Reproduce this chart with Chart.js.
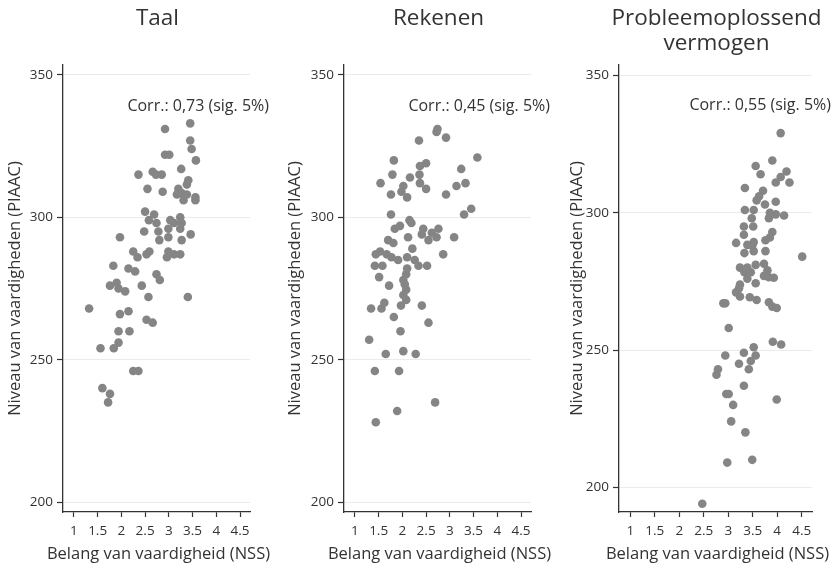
<!DOCTYPE html>
<html>
<head>
<meta charset="utf-8">
<title>Belang van vaardigheid vs niveau</title>
<script src="https://cdn.jsdelivr.net/npm/chart.js"></script>
<style>
    body { margin: 0; background: #fff; }
    #wrap { position: relative; width: 833px; height: 566px; }
    .panel { position: absolute; top: 0; height: 566px; }
</style>
<script>
    // scores: x = belang (NSS), y = niveau (PIAAC)
    const taalX = [3.45, 2.92, 3.45, 3.48, 2.92, 3.01, 3.57, 2.36, 2.66, 2.73, 2.85, 3.26, 3.41, 3.38, 2.55, 2.87, 3.20, 3.17, 3.27, 3.38,
        3.31, 3.56, 3.56, 2.50, 2.69, 2.58, 2.74, 3.03, 3.11, 3.24, 3.27, 2.99, 3.24, 2.48, 2.78, 3.46, 1.97, 2.99, 2.80, 3.27,
        2.25, 2.34, 2.59, 2.53, 2.99, 3.11, 3.24, 2.96, 1.83, 2.15, 2.29, 2.74, 2.81, 1.90, 1.76, 1.94, 2.08, 2.43, 2.57, 3.40,
        1.32, 1.97, 2.15, 2.53, 2.66, 1.94, 2.17, 1.94, 1.84, 1.56, 2.25, 2.36, 1.60, 1.76, 1.72];
    const taalY = [333, 331, 327, 324, 322, 322, 320, 315, 316, 315, 315, 317, 313, 311.5, 310, 309, 310, 308, 308.5, 308,
        306, 307, 306, 302, 301, 299, 298, 299, 298, 300, 298, 296, 296, 295, 295, 294, 293, 293, 292, 292,
        288, 286, 288, 287, 288, 287, 287, 286, 283, 282, 281, 280, 278, 277, 276, 275, 274, 276, 272, 272,
        268, 266, 267, 264, 263, 260, 260, 256, 254, 254, 246, 246, 240, 238, 235];

    const rekenenX = [2.74, 2.72, 2.92, 2.35, 3.58, 1.82, 2.50, 2.37, 3.24, 1.79, 2.16, 2.36, 1.54, 2.37, 2.50, 2.02, 1.98, 2.10, 1.76, 3.14,
        3.33, 2.92, 3.30, 3.45, 1.76, 2.15, 2.19, 1.84, 1.95, 2.44, 2.12, 2.41, 2.55, 2.62, 2.76, 2.72, 3.09, 1.70, 1.81, 2.21,
        1.44, 1.53, 1.67, 1.77, 1.91, 2.10, 2.86, 2.26, 2.34, 1.42, 1.58, 2.52, 2.10, 2.08, 1.51, 2.02, 2.05, 1.72, 2.08, 2.02,
        2.08, 1.34, 1.56, 1.62, 1.97, 2.41, 1.82, 2.55, 1.96, 1.30, 1.65, 2.02, 2.28, 1.42, 1.93, 2.69, 1.89, 1.44];
    const rekenenY = [331, 330, 328, 327, 321, 320, 319, 318, 317, 315, 314, 315, 312, 312, 310, 311, 309, 307, 308, 311,
        312, 308, 301, 303, 301, 299, 298, 296, 297, 296, 293, 294, 292, 294.6, 296, 293, 293, 292, 291, 289,
        287, 288, 287, 286, 285, 286, 287, 285, 283, 283, 283, 283, 282, 280, 279, 278, 276.5, 276, 274.6, 272.7,
        271, 268, 268, 270, 269, 269, 265, 263, 260, 257, 252, 253, 252, 246, 246, 235, 232, 228];

    const probX = [4.07, 3.90, 3.56, 3.66, 4.19, 4.07, 3.97, 4.25, 3.34, 3.71, 3.63, 3.58, 3.75, 3.97, 3.34, 3.52, 3.85, 3.83, 4.14, 3.97,
        3.48, 3.32, 3.51, 3.32, 3.90, 3.85, 3.76, 3.16, 3.39, 3.52, 3.49, 3.33, 3.52, 3.76, 4.51, 3.24, 3.39, 3.56, 3.73, 3.33,
        3.46, 3.80, 3.73, 3.83, 3.93, 3.39, 3.56, 3.24, 3.22, 3.16, 3.24, 3.44, 3.58, 2.90, 2.94, 3.83, 3.90, 3.99, 3.01, 3.91,
        4.08, 3.52, 3.32, 2.94, 3.56, 3.46, 3.22, 3.42, 2.79, 2.76, 3.32, 2.96, 3.01, 3.10, 3.99, 3.06, 3.35, 3.49, 2.98, 2.47];
    const probY = [329, 319, 317, 314, 315, 313, 311, 311, 309, 308, 306, 304.5, 303, 304, 301, 301, 300, 298, 299, 299.4,
        298, 295, 295, 292, 293, 291, 290, 289, 288.3, 289.3, 288, 285.3, 286, 286, 284, 280, 280, 281, 281.4, 278.3,
        278.3, 279, 277, 276.5, 276.3, 276, 274.3, 273.8, 272.5, 271, 269.5, 269.2, 268.2, 267, 267, 267.4, 265.8, 265.3, 258, 253,
        252, 251, 249, 248, 248, 246, 245, 243, 243, 241, 237, 234, 234, 230, 232, 224, 220, 210, 209, 194];

    const xTicks = [1, 1.5, 2, 2.5, 3, 3.5, 4, 4.5];
    const yTicks = [200, 250, 300, 350];

    const xTitle = 'Belang van vaardigheid (NSS)';
    const yTitle = 'Niveau van vaardigheden (PIAAC)';
    const FONT = '"Open Sans", sans-serif';
    const INK = '#333333';

    function makePanel(id, title, corr, xs, ys, yMin, yMax, axisW, padRight) {
        const pts = xs.map((x, i) => ({ x: x, y: ys[i] }));

        // panel title, correlation note and x-axis title (wider than the plot, so not squeezed)
        const labels = {
            id: 'labels',
            afterDraw(chart) {
                const { ctx, chartArea, scales } = chart;
                const cx = (chartArea.left + chartArea.right) / 2;
                ctx.save();
                ctx.fillStyle = INK;
                ctx.textAlign = 'center';
                ctx.textBaseline = 'middle';
                ctx.font = '22.5px ' + FONT;
                title.forEach((t, i) => ctx.fillText(t, cx + 1, 19 + i * 25));
                ctx.font = '16.5px ' + FONT;
                ctx.fillText(xTitle, cx + 2, 554);
                ctx.font = '16px ' + FONT;
                ctx.textAlign = 'right';
                ctx.fillText(corr, chartArea.right + 19, scales.y.getPixelForValue(339));
                ctx.restore();
            }
        };

        new Chart(document.getElementById(id), {
            type: 'scatter',
            data: {
                datasets: [{
                    data: pts,
                    backgroundColor: '#858585',
                    borderWidth: 0,
                    pointRadius: 4.3,
                    pointHoverRadius: 4.3
                }]
            },
            options: {
                responsive: true,
                maintainAspectRatio: false,
                animation: false,
                devicePixelRatio: 1,
                layout: { padding: { top: 65, right: padRight, bottom: 0, left: 0 } },
                plugins: { legend: { display: false }, tooltip: { enabled: false } },
                scales: {
                    x: {
                        type: 'linear',
                        min: 0.77,
                        max: 4.71,
                        afterBuildTicks: s => { s.ticks = xTicks.map(v => ({ value: v })); },
                        afterFit: s => { s.height = 54; },
                        ticks: { color: INK, font: { family: FONT, size: 13.5 }, padding: 6, maxRotation: 0, callback: v => String(v) },
                        grid: { drawOnChartArea: false, tickColor: INK, tickLength: 5, tickWidth: 1.2 },
                        border: { color: INK, width: 1.3 }
                    },
                    y: {
                        type: 'linear',
                        min: yMin,
                        max: yMax,
                        afterBuildTicks: s => { s.ticks = yTicks.map(v => ({ value: v })); },
                        afterFit: s => { s.width = axisW; },
                        ticks: { color: INK, font: { family: FONT, size: 13.5 }, padding: 4 },
                        grid: { color: '#ebebeb', lineWidth: 1, tickColor: INK, tickLength: 6, tickWidth: 1.2 },
                        border: { color: INK, width: 1.3 },
                        title: { display: true, text: yTitle, color: INK, font: { family: FONT, size: 16.5 }, padding: { top: 5, bottom: 0 } }
                    }
                }
            },
            plugins: [labels]
        });
    }

    window.onload = function () {
        makePanel('c1', ['Taal'], 'Corr.: 0,73 (sig. 5%)', taalX, taalY, 196.5, 353.5, 63, 30);
        makePanel('c2', ['Rekenen'], 'Corr.: 0,45 (sig. 5%)', rekenenX, rekenenY, 196.5, 353.5, 64, 29);
        makePanel('c3', ['Probleemoplossend', 'vermogen'], 'Corr.: 0,55 (sig. 5%)', probX, probY, 191, 353.8, 57, 21);
    };
</script>
</head>
<body>
<div id="wrap">
    <div class="panel" style="left:0;width:280px"><canvas id="c1"></canvas></div>
    <div class="panel" style="left:280px;width:280px"><canvas id="c2"></canvas></div>
    <div class="panel" style="left:562px;width:271px"><canvas id="c3"></canvas></div>
</div>
</body>
</html>
